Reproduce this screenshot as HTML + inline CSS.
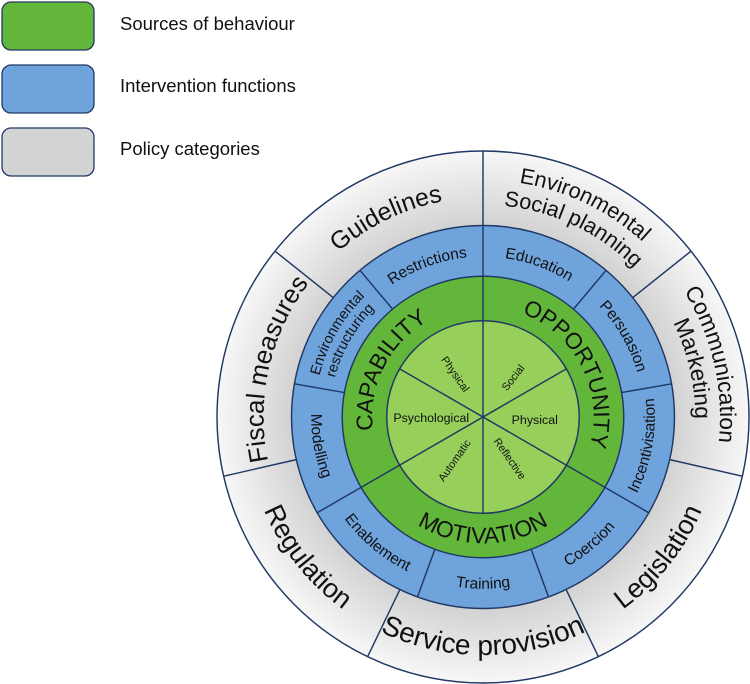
<!DOCTYPE html>
<html><head><meta charset="utf-8"><style>
html,body{margin:0;padding:0;background:#fff;}
svg{display:block;font-family:"Liberation Sans",Arial,sans-serif;}
</style></head><body>
<svg width="750" height="684" viewBox="0 0 750 684" xmlns="http://www.w3.org/2000/svg">
<defs>
<radialGradient id="g" cx="473" cy="405" r="257" gradientUnits="userSpaceOnUse">
<stop offset="0.72" stop-color="#d2d2d2"/><stop offset="1" stop-color="#f7f7f7"/>
</radialGradient>
<path id="cw229" d="M473,176 A229,229 0 1 1 473,634 A229,229 0 1 1 473,176"/>
<path id="cw205" d="M473,200 A205,205 0 1 1 473,610 A205,205 0 1 1 473,200"/>
<path id="cw212" d="M473,193 A212,212 0 1 1 473,617 A212,212 0 1 1 473,193"/>
<path id="cw155" d="M473,250 A155,155 0 1 1 473,560 A155,155 0 1 1 473,250"/>
<path id="cw163" d="M473,242 A163,163 0 1 1 473,568 A163,163 0 1 1 473,242"/>
<path id="cw148" d="M473,257 A148,148 0 1 1 473,553 A148,148 0 1 1 473,257"/>
<path id="cw107" d="M473,298 A107,107 0 1 1 473,512 A107,107 0 1 1 473,298"/>
<path id="ccw230" d="M473,175 A230,230 0 1 0 473,635 A230,230 0 1 0 473,175"/>
<path id="ccw166" d="M473,239 A166,166 0 1 0 473,571 A166,166 0 1 0 473,239"/>
<path id="ccw122" d="M473,283 A122,122 0 1 0 473,527 A122,122 0 1 0 473,283"/>
</defs>

<g stroke="#203864" stroke-width="1.3">
<rect x="2" y="2" width="92" height="48" rx="9" fill="#62b63a"/>
<rect x="2" y="65" width="92" height="48" rx="9" fill="#6fa3dc"/>
<rect x="2" y="128" width="92" height="48" rx="9" fill="#d3d3d3"/>
</g>
<g font-size="18.5" fill="#111">
<text x="120" y="30">Sources of behaviour</text>
<text x="120" y="92">Intervention functions</text>
<text x="120" y="155">Policy categories</text>
</g>

<g transform="translate(483,417) scale(1.035) translate(-473,-405)">
<g stroke="#203864" stroke-width="1.4">
<circle cx="473" cy="405" r="257" fill="url(#g)"/>
<circle cx="473" cy="405" r="185" fill="#6fa3dc"/>
<circle cx="473" cy="405" r="136" fill="#62b63a"/>
<circle cx="473" cy="405" r="93" fill="#96d05a"/>
<line x1="473" y1="312" x2="473" y2="498"/>
<line x1="553.5" y1="358.5" x2="392.5" y2="451.5"/>
<line x1="553.5" y1="451.5" x2="392.5" y2="358.5"/>
<line x1="473" y1="312" x2="473" y2="269"/>
<line x1="553.5" y1="451.5" x2="590.8" y2="473"/>
<line x1="392.5" y1="451.5" x2="355.2" y2="473"/>
<line x1="473" y1="269" x2="473" y2="220"/>
<line x1="560.4" y1="300.8" x2="591.9" y2="263.3"/>
<line x1="606.9" y1="381.4" x2="655.2" y2="372.9"/>
<line x1="590.8" y1="473" x2="633.2" y2="497.5"/>
<line x1="519.5" y1="532.8" x2="536.3" y2="578.8"/>
<line x1="426.5" y1="532.8" x2="409.7" y2="578.8"/>
<line x1="355.2" y1="473" x2="312.8" y2="497.5"/>
<line x1="339.1" y1="381.4" x2="290.8" y2="372.9"/>
<line x1="385.6" y1="300.8" x2="354.1" y2="263.3"/>
<line x1="473" y1="220" x2="473" y2="148"/>
<line x1="617.6" y1="289.7" x2="673.9" y2="244.8"/>
<line x1="653.4" y1="446.2" x2="723.5" y2="462.2"/>
<line x1="553.3" y1="571.7" x2="584.5" y2="636.6"/>
<line x1="392.7" y1="571.7" x2="361.5" y2="636.6"/>
<line x1="292.6" y1="446.2" x2="222.5" y2="462.2"/>
<line x1="328.4" y1="289.7" x2="272.1" y2="244.8"/>
</g>

<g fill="#111" text-anchor="middle">
<text font-size="24"><textPath href="#cw212" startOffset="92.8%">Guidelines</textPath></text>
<text font-size="25"><textPath href="#cw212" startOffset="78.6%">Fiscal measures</textPath></text>
<text font-size="21"><textPath href="#cw229" startOffset="7.1%">Environmental</textPath></text>
<text font-size="21"><textPath href="#cw205" startOffset="7.1%">Social planning</textPath></text>
<text font-size="22"><textPath href="#cw229" startOffset="21.4%">Communication</textPath></text>
<text font-size="22"><textPath href="#cw205" startOffset="21.4%">Marketing</textPath></text>
<text font-size="26"><textPath href="#ccw230" startOffset="64.3%">Legislation</textPath></text>
<text font-size="27"><textPath href="#ccw230" startOffset="50%">Service provision</textPath></text>
<text font-size="26"><textPath href="#ccw230" startOffset="35.7%">Regulation</textPath></text>
</g>

<g fill="#111" text-anchor="middle" font-size="15">
<text><textPath href="#cw155" startOffset="5.6%">Education</textPath></text>
<text><textPath href="#cw155" startOffset="16.7%">Persuasion</textPath></text>
<text><textPath href="#ccw166" startOffset="72.2%">Incentivisation</textPath></text>
<text><textPath href="#ccw166" startOffset="61.1%">Coercion</textPath></text>
<text><textPath href="#ccw166" startOffset="50%">Training</textPath></text>
<text><textPath href="#ccw166" startOffset="38.9%">Enablement</textPath></text>
<text><textPath href="#ccw166" startOffset="27.8%">Modelling</textPath></text>
<text><textPath href="#cw155" startOffset="94.4%">Restrictions</textPath></text>
<text font-size="14"><textPath href="#cw163" startOffset="83.3%">Environmental</textPath></text>
<text font-size="14"><textPath href="#cw148" startOffset="83.3%">restructuring</textPath></text>
</g>

<g fill="#111" text-anchor="middle" font-size="22">
<text><textPath href="#cw107" startOffset="82.4%">CAPABILITY</textPath></text>
<text><textPath href="#cw107" startOffset="17.5%">OPPORTUNITY</textPath></text>
<text><textPath href="#ccw122" startOffset="50%">MOTIVATION</textPath></text>
</g>

<g fill="#111" text-anchor="middle">
<text font-size="12" x="423" y="410">Psychological</text>
<text font-size="12" x="523" y="412">Physical</text>
<text font-size="10.5" transform="translate(446.7,363.3) rotate(55)" y="4">Physical</text>
<text font-size="10.5" transform="translate(501.7,366.7) rotate(-52)" y="4">Social</text>
<text font-size="10.5" transform="translate(445,446.7) rotate(-55)" y="4">Automatic</text>
<text font-size="10.5" transform="translate(499.3,445) rotate(55)" y="4">Reflective</text>
</g>
</g>
</svg>
</body></html>
